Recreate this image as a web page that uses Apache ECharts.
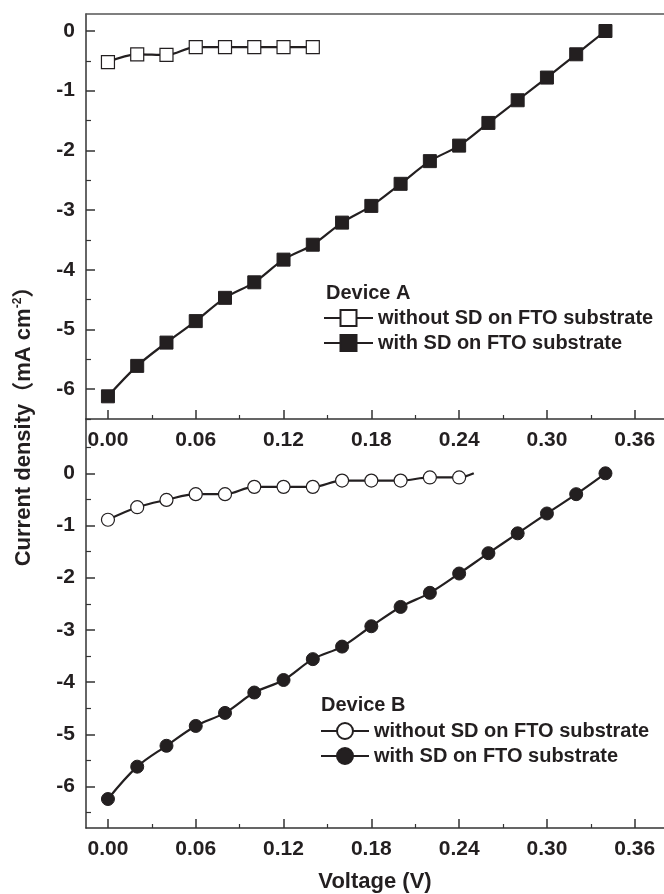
<!DOCTYPE html>
<html>
<head>
<meta charset="utf-8">
<script src="https://cdn.jsdelivr.net/npm/echarts@6/dist/echarts.min.js"></script>
<style>html,body{margin:0;padding:0;background:#fff}#c{width:664px;height:894px}</style>
</head>
<body>
<div id="c"></div>
<script>
// ---- data ----
const voltage = [0, 0.02, 0.04, 0.06, 0.08, 0.10, 0.12, 0.14, 0.16, 0.18, 0.20, 0.22, 0.24, 0.26, 0.28, 0.30, 0.32, 0.34];
const deviceA_without = [-0.52, -0.39, -0.40, -0.27, -0.27, -0.27, -0.27, -0.27];
const deviceA_with = [-6.12, -5.61, -5.22, -4.86, -4.47, -4.21, -3.83, -3.58, -3.21, -2.93, -2.56, -2.18, -1.92, -1.54, -1.16, -0.78, -0.39, 0.0];
const deviceB_without = [-0.89, -0.65, -0.51, -0.40, -0.40, -0.26, -0.26, -0.26, -0.14, -0.14, -0.14, -0.08, -0.08];
const deviceB_withoutTail = [0.25, 0.0];
const deviceB_with = [-6.24, -5.62, -5.22, -4.84, -4.59, -4.20, -3.96, -3.56, -3.32, -2.93, -2.56, -2.29, -1.92, -1.53, -1.15, -0.77, -0.40, 0.0];
const xMajorTicks = [0, 0.06, 0.12, 0.18, 0.24, 0.30, 0.36];
const xMinorTicks = [0.03, 0.09, 0.15, 0.21, 0.27, 0.33];
const yMajorTicks = [-6, -5, -4, -3, -2, -1, 0];
const yMinorTicksA = [-6.5, -5.5, -4.5, -3.5, -2.5, -1.5, -0.5];
const yMinorTicksB = [-6.5, -5.5, -4.5, -3.5, -2.5, -1.5, -0.5, 0.5];
const legendLabels = {
  aWithout: 'without SD on FTO substrate',
  aWith: 'with SD on FTO substrate',
  bWithout: 'without SD on FTO substrate',
  bWith: 'with SD on FTO substrate'
};

// ---- styling ----
const INK = '#231f20';
const FONT = '"Liberation Sans", Arial, "Noto Sans CJK SC", sans-serif';
const axisLine = { show: true, onZero: false, lineStyle: { color: '#333', width: 1.5 } };
const labelStyle = { color: INK, fontSize: 21, fontWeight: 'bold', fontFamily: FONT };

const pairs = (xs, ys) => ys.map((y, i) => [xs[i], y]);

function xAxes(gridIndex, min, max) {
  return [
    { type: 'value', gridIndex, position: 'bottom', min, max,
      axisLine,
      splitLine: { show: false },
      axisTick: { show: true, inside: true, length: 9, customValues: xMajorTicks, lineStyle: { color: '#333', width: 1.5 } },
      axisLabel: Object.assign({ show: true, margin: 11, customValues: xMajorTicks, formatter: v => v.toFixed(2) }, labelStyle) },
    { type: 'value', gridIndex, position: 'bottom', min, max,
      axisLine: { show: false, onZero: false },
      splitLine: { show: false },
      axisTick: { show: true, inside: true, length: 4, customValues: xMinorTicks, lineStyle: { color: '#333', width: 1.2 } },
      axisLabel: { show: false } }
  ];
}
function yAxes(gridIndex, min, max, minor) {
  return [
    { type: 'value', gridIndex, position: 'left', min, max,
      axisLine,
      splitLine: { show: false },
      axisTick: { show: true, inside: true, length: 9, customValues: yMajorTicks, lineStyle: { color: '#333', width: 1.5 } },
      axisLabel: Object.assign({ show: true, margin: 11, customValues: yMajorTicks, formatter: v => String(v) }, labelStyle) },
    { type: 'value', gridIndex, position: 'left', min, max,
      axisLine: { show: false, onZero: false },
      splitLine: { show: false },
      axisTick: { show: true, inside: true, length: 5, customValues: minor, lineStyle: { color: '#333', width: 1.2 } },
      axisLabel: { show: false } }
  ];
}

const X_MIN = -0.015, X_MAX = 0.38;

const option = {
  animation: false,
  backgroundColor: '#fff',
  grid: [
    { left: 86, right: 0, top: 14, bottom: 475, outerBoundsMode: 'none' },
    { left: 86, right: 0, top: 419, bottom: 66, outerBoundsMode: 'none' },
    { left: 86, right: 0, top: 14, bottom: 66, outerBoundsMode: 'none' }
  ],
  xAxis: [
    ...xAxes(0, X_MIN, X_MAX),
    { type: 'value', gridIndex: 0, position: 'top', min: X_MIN, max: X_MAX,
      axisLine: { show: true, onZero: false, lineStyle: { color: '#555', width: 1.5 } },
      axisTick: { show: false }, axisLabel: { show: false }, splitLine: { show: false } },
    ...xAxes(1, X_MIN, X_MAX),
    { type: 'value', gridIndex: 2, position: 'bottom', min: 0, max: 1,
      axisLine: { show: false, onZero: false }, axisTick: { show: false }, axisLabel: { show: false }, splitLine: { show: false },
      name: 'Voltage (V)', nameLocation: 'middle', nameGap: 43, nameMoveOverlap: false,
      nameTextStyle: { color: INK, fontSize: 22, fontWeight: 'bold', fontFamily: FONT } }
  ],
  yAxis: [
    ...yAxes(0, -6.5, 0.285, yMinorTicksA),
    ...yAxes(1, -6.795, 1.04, yMinorTicksB),
    { type: 'value', gridIndex: 2, position: 'left', min: 0, max: 1,
      axisLine: { show: false, onZero: false }, axisTick: { show: false }, axisLabel: { show: false }, splitLine: { show: false },
      name: '{a|Current density（mA cm}{s|-2}{a|）}', nameLocation: 'middle', nameGap: 50, nameRotate: 90, nameMoveOverlap: false,
      nameTextStyle: {
        color: INK, fontSize: 22, fontWeight: 'bold', fontFamily: FONT,
        rich: {
          a: { color: INK, fontSize: 22, fontWeight: 'bold', fontFamily: FONT },
          s: { color: INK, fontSize: 12, fontWeight: 'bold', fontFamily: FONT, verticalAlign: 'top', padding: [0, 0, 12, 0] }
        }
      } }
  ],
  title: [
    { text: 'Device A', left: 326, top: 283, padding: 0,
      textStyle: { color: INK, fontSize: 20, fontWeight: 'bold', fontFamily: FONT } },
    { text: 'Device B', left: 321, top: 695, padding: 0,
      textStyle: { color: INK, fontSize: 20, fontWeight: 'bold', fontFamily: FONT } }
  ],
  legend: [
    { orient: 'vertical', left: 323, top: 308, padding: 0, itemGap: 5, itemWidth: 49, itemHeight: 20,
      selectedMode: false, data: ['aWithout', 'aWith'],
      formatter: n => legendLabels[n],
      lineStyle: { width: 2 },
      textStyle: { color: INK, fontSize: 20, fontWeight: 'bold', fontFamily: FONT } },
    { orient: 'vertical', left: 320, top: 721, padding: 0, itemGap: 5, itemWidth: 48, itemHeight: 20,
      selectedMode: false, data: ['bWithout', 'bWith'],
      formatter: n => legendLabels[n],
      lineStyle: { width: 2 },
      textStyle: { color: INK, fontSize: 20, fontWeight: 'bold', fontFamily: FONT } }
  ],
  series: [
    { name: 'aWithout', type: 'line', xAxisIndex: 0, yAxisIndex: 0, smooth: 0.35,
      data: pairs(voltage, deviceA_without),
      symbol: 'rect', symbolSize: 13,
      itemStyle: { color: '#fff', borderColor: INK, borderWidth: 1.2 },
      lineStyle: { color: INK, width: 2.2 } },
    { name: 'aWith', type: 'line', xAxisIndex: 0, yAxisIndex: 0, smooth: 0.35,
      data: pairs(voltage, deviceA_with),
      symbol: 'rect', symbolSize: 13,
      itemStyle: { color: INK, borderColor: INK, borderWidth: 1 },
      lineStyle: { color: INK, width: 2.2 } },
    { name: 'bWithout', type: 'line', xAxisIndex: 3, yAxisIndex: 2, smooth: 0.35,
      data: pairs(voltage, deviceB_without).concat([{ value: deviceB_withoutTail, symbol: 'none' }]),
      symbol: 'circle', symbolSize: 13,
      itemStyle: { color: '#fff', borderColor: INK, borderWidth: 1.2 },
      lineStyle: { color: INK, width: 2.2 } },
    { name: 'bWith', type: 'line', xAxisIndex: 3, yAxisIndex: 2, smooth: 0.35,
      data: pairs(voltage, deviceB_with),
      symbol: 'circle', symbolSize: 13,
      itemStyle: { color: INK, borderColor: INK, borderWidth: 1 },
      lineStyle: { color: INK, width: 2.2 } }
  ]
};

const chart = echarts.init(document.getElementById('c'), null, { renderer: 'canvas' });
chart.setOption(option);
</script>
</body>
</html>
